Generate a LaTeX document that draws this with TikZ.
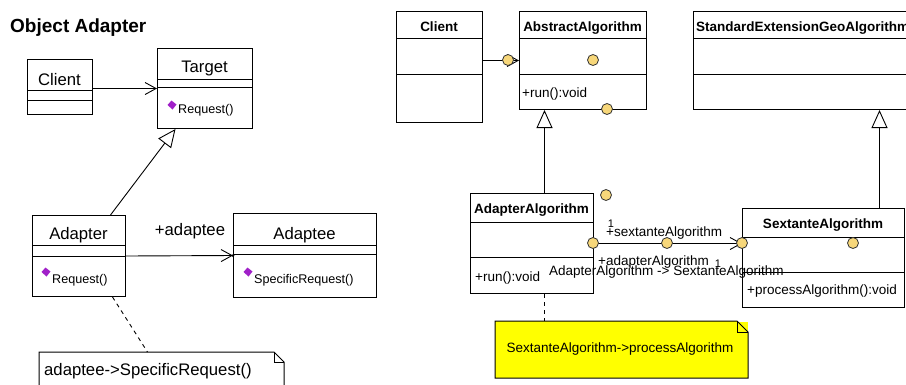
\documentclass[tikz,border=0pt]{standalone}
\usepackage{fontspec}
\setmainfont{Liberation Sans}
\usetikzlibrary{arrows.meta}

\definecolor{dotfill}{HTML}{F7D77A}
\definecolor{opicon}{HTML}{A020C8}
\definecolor{notefill}{HTML}{FFFF00}

\tikzset{
  cls/.style={draw, line width=1pt, fill=white, inner sep=0pt, anchor=north west},
  clsline/.style={line width=1pt},
  biglbl/.style={inner sep=0pt, font=\fontsize{16.7}{19}\selectfont},
  oplbl/.style={inner sep=0pt, font=\fontsize{12.6}{15}\selectfont},
  multlbl/.style={inner sep=0pt, font=\fontsize{11}{13}\selectfont},
  smlbl/.style={inner sep=0pt, font=\fontsize{13.5}{16}\selectfont},
  smbold/.style={inner sep=0pt, font=\fontsize{13.5}{16}\selectfont\bfseries},
  navarrow/.style={line width=0.9pt, -{Straight Barb[length=11pt, width=12pt, line width=0.9pt]}},
  genarrow/.style={line width=0.9pt, -{Triangle[open, length=18pt, width=16pt, line width=0.9pt, fill=white]}},
  anchorline/.style={line width=0.9pt, dashed, dash pattern=on 4pt off 4pt},
  dot/.style={circle, draw=black!80, line width=0.8pt, fill=dotfill, minimum size=11pt, inner sep=0pt},
  notebox/.style={draw, line width=1pt, inner sep=0pt, anchor=north west},
}

% class box with two compartment separators
\newcommand\umlbox[7]{%
  \node[cls, minimum width=#4pt, minimum height=#5pt] (#1) at (#2,#3) {};
  \draw[clsline] ([yshift=-#6pt]#1.north west) -- ([yshift=-#6pt]#1.north east);
  \draw[clsline] ([yshift=-#7pt]#1.north west) -- ([yshift=-#7pt]#1.north east);
}
% operation marker
\newcommand\opmark[3]{%
  \fill[opicon] (#2,#3) ++(-4.5,0) -- ++(4,-4.5) -- ++(5,4) -- ++(-4,5) -- cycle;
  \coordinate (#1) at (#2,#3);
}

\begin{document}
\begin{tikzpicture}[x=1pt, y=-1pt]
\useasboundingbox (0,0) rectangle (906,384);
\clip (0,0) rectangle (906,384);
\fill[white] (0,0) rectangle (906,384);

% ---------------- Object Adapter pattern ----------------
\node[inner sep=0pt, anchor=base west, font=\fontsize{19}{22}\selectfont\bfseries] (title) at (10,32) {Object Adapter};

\umlbox{clientL}{27}{59}{65}{55}{31}{41}
\umlbox{target}{157}{48}{95}{80}{31}{39}
\umlbox{adapter}{32}{215}{93}{81}{30}{41}
\umlbox{adaptee}{233}{213}{143}{84}{32}{41}

\node[biglbl, anchor=base] (clientLt) at (59.5,85) {Client};
\node[biglbl, anchor=base] (targett) at (204.5,72) {Target};
\node[biglbl, anchor=base] (adaptert) at (78.5,239) {Adapter};
\node[biglbl, anchor=base] (adapteet) at (304.5,239) {Adaptee};

\opmark{m1}{172}{105}
\node[oplbl, anchor=base west] (req1) at (178,113) {Request()};
\opmark{m2}{46}{272}
\node[oplbl, anchor=base west] (req2) at (52,283) {Request()};
\opmark{m3}{248}{272}
\node[oplbl, anchor=base west] (req3) at (254,283) {SpecificRequest()};

\draw[navarrow] (clientL.east |- target.west) -- (target.west);
\draw[genarrow] ([xshift=31.5pt]adapter.north) -- ([xshift=-29.5pt]target.south);
\draw[navarrow] (adapter.east) -- (adaptee.west);
\fill (adaptee.west) circle (1.5pt);
\node[biglbl, anchor=base] (adapteeRole) at (190,235) {+adaptee};

% note attached to Adapter
\node[notebox, draw=none, minimum width=244pt, minimum height=40pt] (noteL) at (39,352) {};
\draw[line width=1pt] (noteL.south west) -- (noteL.north west) -- ([xshift=-10pt]noteL.north east)
  -- ([yshift=-10pt]noteL.north east) -- (noteL.south east);
\draw[line width=1pt] ([xshift=-10pt]noteL.north east) -- ([xshift=-10pt, yshift=-10pt]noteL.north east)
  -- ([yshift=-10pt]noteL.north east);
\node[biglbl, anchor=base west] (noteLt) at (44,375) {adaptee->SpecificRequest()};
\draw[anchorline] ([xshift=33.5pt]adapter.south) -- ([xshift=-14pt]noteL.north);

% ---------------- Sextante algorithm adapter ----------------
\umlbox{clientR}{396}{11}{86}{111}{27}{63}
\umlbox{absA}{519}{11}{127}{98}{27}{63}
\umlbox{stdExt}{693}{11}{240}{98}{27}{63}
\umlbox{adapterA}{470}{193}{123}{100}{29}{64}
\umlbox{sextante}{742}{208}{162}{99}{29}{64}

\node[smbold, anchor=base] (clientRt) at (439,31) {Client};
\node[smbold, anchor=base] (absAt) at (582.5,31) {AbstractAlgorithm};
\node[smlbl, anchor=base west] (runA) at (522,97) {+run():void};
\node[smbold, anchor=base west] (stdExtt) at (696,31) {StandardExtensionGeoAlgorithm};
\node[smbold, anchor=base] (adapterAt) at (531.5,213) {AdapterAlgorithm};
\node[smlbl, anchor=base west] (runB) at (475,281) {+run():void};
\node[smbold, anchor=base] (sextantet) at (823,228) {SextanteAlgorithm};
\node[smlbl, anchor=base west] (procA) at (747,294) {+processAlgorithm():void};

\draw[navarrow] (clientR.east |- absA.west) -- (absA.west);
\draw[genarrow] ([xshift=12.5pt]adapterA.north) -- ([xshift=12.5pt]adapterA.north |- absA.south);
\draw[genarrow] ([xshift=56pt]sextante.north) -- ([xshift=56pt]sextante.north |- stdExt.south);
\draw[navarrow] (adapterA.east) -- (adapterA.east -| sextante.west);

% association end labels
\node[multlbl, anchor=base] (mult1) at (611,227) {1};
\node[smlbl, anchor=base west] (roleS) at (606,236) {+sextanteAlgorithm};
\node[smlbl, anchor=base west] (roleA) at (598,265) {+adapterAlgorithm};
\node[multlbl, anchor=base] (mult2) at (718,267) {1};
\node[smlbl, anchor=base west] (assocName) at (549,275) {AdapterAlgorithm -> SextanteAlgorithm};

% note attached to AdapterAlgorithm
\node[notebox, fill=notefill, draw=none, minimum width=252pt, minimum height=56pt] (noteR) at (495,321) {};
\draw[line width=1pt, fill=notefill] (noteR.south west) -- (noteR.north west) -- ([xshift=-11pt]noteR.north east)
  -- ([yshift=-11pt]noteR.north east) -- (noteR.south east) -- cycle;
\draw[line width=1pt] ([xshift=-11pt]noteR.north east) -- ([xshift=-11pt, yshift=-11pt]noteR.north east)
  -- ([yshift=-11pt]noteR.north east);
\node[smlbl, anchor=base] (noteRt) at (620,352) {SextanteAlgorithm->processAlgorithm};
\draw[anchorline] ([xshift=12.5pt]adapterA.south) -- ([xshift=12.5pt]adapterA.south |- noteR.north);

% connection handles
\node[dot] (h1) at (508,60) {};
\node[dot] (h2) at (593,60) {};
\node[dot] (h3) at (607,109) {};
\node[dot] (h4) at (606,195) {};
\node[dot] (h5) at (593,243) {};
\node[dot] (h6) at (667,243) {};
\node[dot] (h7) at (742,243) {};
\node[dot] (h8) at (853,243) {};
\end{tikzpicture}
\end{document}
